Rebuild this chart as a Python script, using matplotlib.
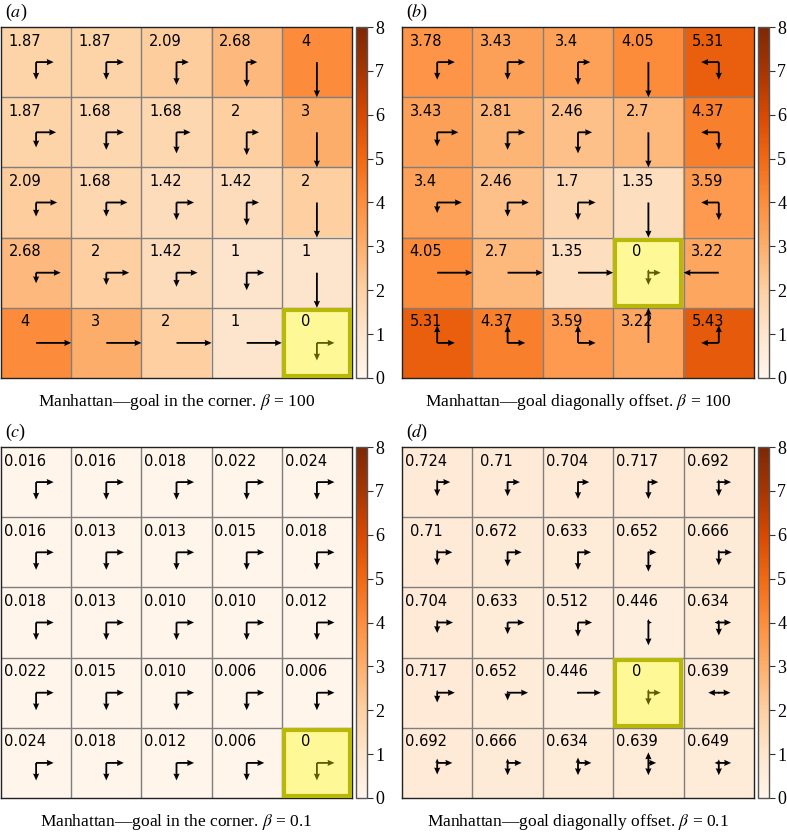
import numpy as np
import matplotlib
matplotlib.use("Agg")
import matplotlib.pyplot as plt
from matplotlib.patches import Rectangle

plt.rcParams['mathtext.fontset'] = 'stix'

# ---------------- data ----------------
vals_a = [[1.87, 1.87, 2.09, 2.68, 4],
          [1.87, 1.68, 1.68, 2, 3],
          [2.09, 1.68, 1.42, 1.42, 2],
          [2.68, 2, 1.42, 1, 1],
          [4, 3, 2, 1, 0]]
right_a = [[.5, .5, .35, .3, 0],
           [.57, .5, .4, .35, 0],
           [.6, .6, .5, .35, 0],
           [.7, .65, .6, .5, 0],
           [1, 1, 1, 1, .5]]
down_a = [[.5, .5, .65, .7, 1],
          [.43, .5, .6, .65, 1],
          [.4, .4, .5, .65, 1],
          [.3, .35, .4, .5, 1],
          [0, 0, 0, 0, .5]]
up_a = [[0] * 5 for _ in range(5)]
left_a = [[0] * 5 for _ in range(5)]

vals_b = [[3.78, 3.43, 3.4, 4.05, 5.31],
          [3.43, 2.81, 2.46, 2.7, 4.37],
          [3.4, 2.46, 1.7, 1.35, 3.59],
          [4.05, 2.7, 1.35, 0, 3.22],
          [5.31, 4.37, 3.59, 3.22, 5.43]]
right_b = [[.5, .5, .35, 0, 0],
           [.6, .5, .4, 0, 0],
           [.7, .6, .5, 0, 0],
           [1, 1, 1, .35, 0],
           [.5, .5, .5, 0, 0]]
down_b = [[.5, .5, .65, 1, .5],
          [.4, .5, .6, 1, .5],
          [.3, .4, .5, 1, .5],
          [0, 0, 0, .35, 0],
          [0, 0, 0, 0, 0]]
up_b = [[0, 0, 0, 0, 0],
        [0, 0, 0, 0, 0],
        [0, 0, 0, 0, 0],
        [0, 0, 0, .1, 0],
        [.5, .5, .5, 1, .5]]
left_b = [[0, 0, 0, 0, .5],
          [0, 0, 0, 0, .5],
          [0, 0, 0, 0, .5],
          [0, 0, 0, 0, 1],
          [0, 0, 0, 0, .5]]

vals_c = [[0.016, 0.016, 0.018, 0.022, 0.024],
          [0.016, 0.013, 0.013, 0.015, 0.018],
          [0.018, 0.013, 0.010, 0.010, 0.012],
          [0.022, 0.015, 0.010, 0.006, 0.006],
          [0.024, 0.018, 0.012, 0.006, 0]]
right_c = [[.5] * 5 for _ in range(5)]
down_c = [[.5] * 5 for _ in range(5)]
up_c = [[0] * 5 for _ in range(5)]
left_c = [[0] * 5 for _ in range(5)]

vals_d = [[0.724, 0.71, 0.704, 0.717, 0.692],
          [0.71, 0.672, 0.633, 0.652, 0.666],
          [0.704, 0.633, 0.512, 0.446, 0.634],
          [0.717, 0.652, 0.446, 0, 0.639],
          [0.692, 0.666, 0.634, 0.639, 0.649]]
right_d = [[.37, .35, .32, .28, .35],
           [.43, .4, .37, .23, .37],
           [.45, .48, .4, .1, .35],
           [.5, .58, .65, .35, .33],
           [.43, .4, .38, .22, .35]]
down_d = [[.4, .4, .48, .48, .4],
          [.37, .4, .5, .55, .37],
          [.3, .33, .4, .65, .37],
          [.28, .22, .05, .35, .05],
          [.33, .35, .35, .35, .35]]
up_d = [[.08, .03, .03, .06, .08],
        [.08, .03, .03, .05, .08],
        [.08, 0, 0, .1, .08],
        [.08, .06, .05, .1, .05],
        [.12, .12, .15, .3, .1]]
left_d = [[0, 0, 0, 0, .08],
          [0, 0, 0, 0, .05],
          [0, 0, 0, 0, .12],
          [0, 0, .03, 0, .3],
          [0, 0, 0, 0, .12]]

goal_a = (4, 4)
goal_b = (3, 3)
goal_c = (4, 4)
goal_d = (3, 3)

fmt_a = '{:g}'
fmt_b = '{:g}'
fmt_c = '{:.3f}'
fmt_d = '{:.3g}'

panel_letters = ['a', 'b', 'c', 'd']
captions = [r'Manhattan—goal in the corner. $\beta$ = 100',
            r'Manhattan—goal diagonally offset. $\beta$ = 100',
            r'Manhattan—goal in the corner. $\beta$ = 0.1',
            r'Manhattan—goal diagonally offset. $\beta$ = 0.1']
cbar_ticks = list(range(9))
vmin, vmax = 0, 8

# ---------------- figure ----------------
W, H = 787, 833
fig = plt.figure(figsize=(W / 100, H / 100), dpi=100)
serif = 'Liberation Serif'


def fx(px):
    return px / W


def fy(py):
    return 1 - py / H


panels = [
    (vals_a, right_a, down_a, up_a, left_a, goal_a, fmt_a),
    (vals_b, right_b, down_b, up_b, left_b, goal_b, fmt_b),
    (vals_c, right_c, down_c, up_c, left_c, goal_c, fmt_c),
    (vals_d, right_d, down_d, up_d, left_d, goal_d, fmt_d),
]
# pixel boxes (left, top, right, bottom)
boxes = [(1, 27, 352, 378), (402, 27, 754, 378),
         (1, 447, 352, 798), (402, 447, 754, 798)]
cbars = [(356, 367), (758, 769)]

for i, (vals, R, D, U, L, goal, fmt) in enumerate(panels):
    l, t, r, b = boxes[i]
    ax = fig.add_axes([fx(l), fy(b), fx(r - l), (b - t) / H])
    v = np.array(vals, dtype=float)
    n = v.shape[0]
    im = ax.imshow(v, cmap='Oranges', vmin=vmin, vmax=vmax,
                   interpolation='nearest', aspect='auto')
    for k in range(1, n):
        ax.axhline(k - 0.5, color='#7f7f7f', lw=1.0)
        ax.axvline(k - 0.5, color='#7f7f7f', lw=1.0)
    ax.set_xticks([])
    ax.set_yticks([])
    for s in ax.spines.values():
        s.set_color('#222222')
        s.set_linewidth(1.0)
    # labels
    for rr in range(n):
        for cc in range(n):
            val = v[rr, cc]
            txt = '0' if val == 0 else fmt.format(val)
            ax.text(cc - 0.16, rr - 0.3, txt, ha='center', va='center',
                    fontsize=10.5, family='DejaVu Sans', color='black',
                    zorder=6)
    # arrows
    X, Y, Uv, Vv = [], [], [], []
    for rr in range(n):
        for cc in range(n):
            for p, dx, dy in ((R[rr][cc], 1, 0), (D[rr][cc], 0, 1),
                              (U[rr][cc], 0, -1), (L[rr][cc], -1, 0)):
                if p > 0:
                    X.append(cc)
                    Y.append(rr)
                    Uv.append(0.5 * p * dx)
                    Vv.append(0.5 * p * dy)
    ax.quiver(X, Y, Uv, Vv, angles='xy', scale_units='xy', scale=1,
              width=0.0052, headwidth=3.4, headlength=3.8,
              headaxislength=3.5, color='black', zorder=3)
    ax.set_xlim(-0.5, n - 0.5)
    ax.set_ylim(n - 0.5, -0.5)
    # goal highlight
    gr, gc = goal
    d = 0.03
    ax.add_patch(Rectangle((gc - 0.5 + d, gr - 0.5 + d), 1 - 2 * d, 1 - 2 * d,
                           facecolor=(1, 1, 0, 0.36),
                           edgecolor=(0.72, 0.72, 0.04, 1), lw=3.0, zorder=4))
    # colorbar
    cl, cr = cbars[i % 2]
    cax = fig.add_axes([fx(cl), fy(b), fx(cr - cl), (b - t) / H])
    cb = fig.colorbar(im, cax=cax, ticks=cbar_ticks)
    cb.outline.set_edgecolor('#555555')
    cb.outline.set_linewidth(1.0)
    cax.tick_params(length=4, width=0.8, color='#333333', pad=2)
    for lab in cax.get_yticklabels():
        lab.set_family(serif)
        lab.set_fontsize(13)
    # panel letter
    fig.text(fx(l + 15), fy(t - 15), '(' + r'$%s$' % panel_letters[i] + ')',
             ha='center', va='center', fontsize=13, family=serif)
    # caption
    fig.text(fx((l + r) / 2), fy(b + 24), captions[i], ha='center',
             va='center', fontsize=12.5, family=serif)

fig.savefig('out.png', dpi=100)
